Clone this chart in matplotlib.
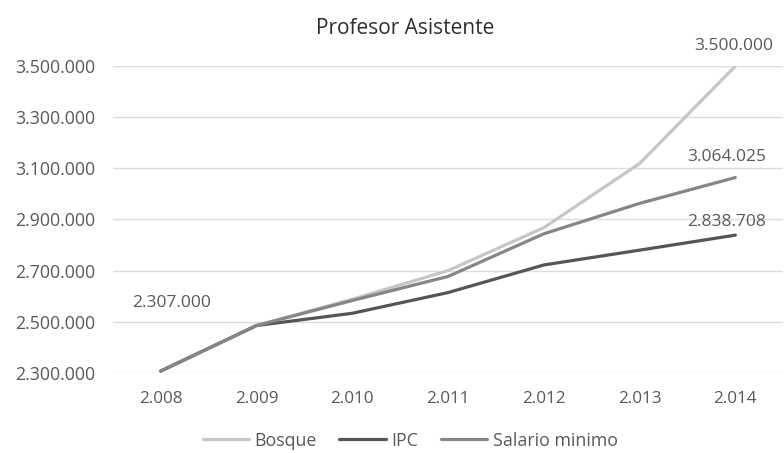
import matplotlib
matplotlib.use("Agg")
import matplotlib.pyplot as plt
from matplotlib.ticker import FuncFormatter

years = ["2.008", "2.009", "2.010", "2.011", "2.012", "2.013", "2.014"]
bosque = [2307000, 2485000, 2588000, 2700000, 2868000, 3119000, 3500000]
ipc = [2307000, 2485000, 2533000, 2614000, 2722000, 2780000, 2838708]
salario = [2307000, 2485000, 2583000, 2677000, 2844000, 2963000, 3064025]
yticks = [2300000, 2500000, 2700000, 2900000, 3100000, 3300000, 3500000]

plt.rcParams['font.family'] = ['Open Sans', 'DejaVu Sans']

def fmt(v):
    return f"{int(round(v)):,}".replace(",", ".")

fig = plt.figure(figsize=(7.84, 4.53), dpi=100)
ax = fig.add_axes([0.144, 0.177, 0.855, 0.677])
x = list(range(len(years)))
ax.plot(x, bosque, color="#c6c6c6", lw=2.3, label="Bosque", solid_capstyle="round")
ax.plot(x, ipc, color="#555555", lw=2.3, label="IPC", solid_capstyle="round")
ax.plot(x, salario, color="#868686", lw=2.3, label="Salario minimo", solid_capstyle="round")

ax.set_xlim(-0.5, len(years) - 0.5)
ax.set_ylim(yticks[0], yticks[-1])
ax.set_yticks(yticks)
ax.yaxis.set_major_formatter(FuncFormatter(lambda v, p: fmt(v)))
ax.set_xticks(x)
ax.set_xticklabels(years)
ax.grid(axis="y", color="#dcdcdc", lw=1.0)
ax.set_axisbelow(True)
for s in ax.spines.values():
    s.set_visible(False)
ax.tick_params(axis="x", length=0, labelsize=12.3, colors="#595959", pad=13)
ax.tick_params(axis="y", length=0, labelsize=12.8, colors="#595959", pad=13)

lab_kw = dict(fontsize=12.5, color="#595959", ha="center", va="bottom")
ax.annotate(fmt(bosque[0]), (x[0], bosque[0]), xytext=(8, 43), textcoords="offset points", **lab_kw)
ax.annotate(fmt(bosque[-1]), (x[-1], bosque[-1]), xytext=(-1, 9), textcoords="offset points", **lab_kw)
ax.annotate(fmt(salario[-1]), (x[-1], salario[-1]), xytext=(-6, 9), textcoords="offset points", **lab_kw)
ax.annotate(fmt(ipc[-1]), (x[-1], ipc[-1]), xytext=(-6, 4), textcoords="offset points", **lab_kw)

fig.text(0.517, 0.936, "Profesor Asistente", ha="center", va="center", fontsize=15, color="#2e2e2e")

leg = fig.legend(loc="lower center", bbox_to_anchor=(0.523, -0.028), ncol=3, frameon=False,
                 fontsize=12.8, handlelength=2.6, handletextpad=0.3, columnspacing=1.3)
for t in leg.get_texts():
    t.set_color("#595959")

fig.savefig("out.png", dpi=100)
